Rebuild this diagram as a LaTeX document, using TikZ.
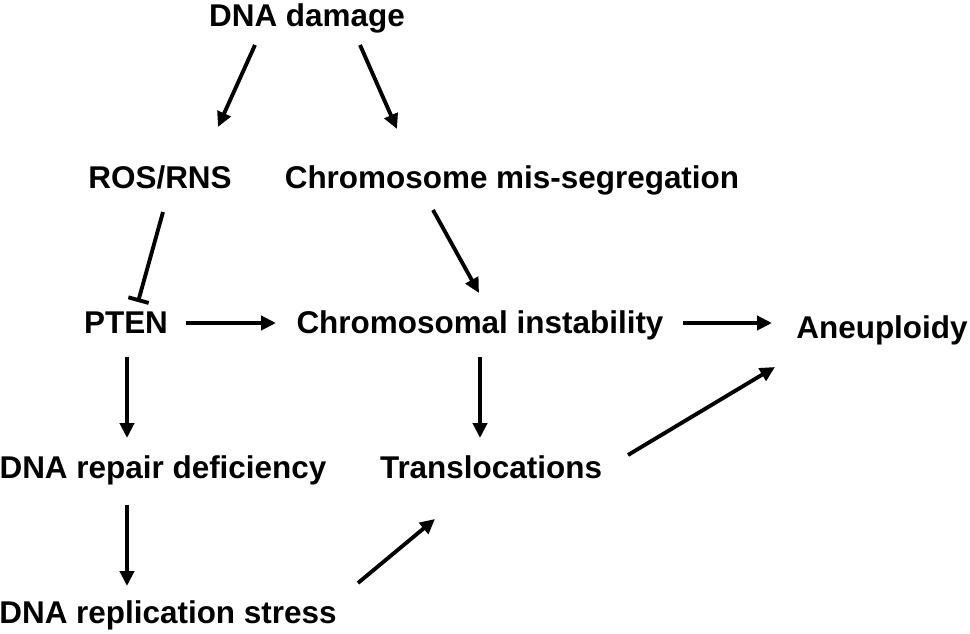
\documentclass[tikz,border=0pt]{standalone}
\usepackage{fontspec}
\setmainfont{Liberation Sans}
\usetikzlibrary{arrows.meta}

\begin{document}
\begin{tikzpicture}[x=0.02cm, y=-0.02cm, >={Triangle[length=8.5pt, width=8pt]}, line width=2.2pt,
    term/.style={anchor=base, inner sep=0pt, font=\fontsize{17.9}{20}\selectfont\bfseries}]
    \useasboundingbox (0,0) rectangle (970,634);

    % Nodes
    \node [term] (dna)    at (307,27)  {DNA damage};
    \node [term] (ros)    at (160,189) {ROS/RNS};
    \node [term] (mis)    at (512,189) {Chromosome mis-segregation};
    \node [term] (pten)   at (126,334) {PTEN};
    \node [term] (cin)    at (480,334) {Chromosomal instability};
    \node [term] (aneu)   at (882,339) {Aneuploidy};
    \node [term] (repair) at (163,479) {DNA repair deficiency};
    \node [term] (trans)  at (491,479) {Translocations};
    \node [term] (stress) at (168,623) {DNA replication stress};

    % Arrow ends
    \coordinate (dna-l)    at (255,45);   \coordinate (ros-t)    at (218,127);
    \coordinate (dna-r)    at (360,45);   \coordinate (mis-t)    at (397,129);
    \coordinate (ros-b)    at (163,212);  \coordinate (pten-t)   at (138,302);
    \coordinate (pten-r)   at (186,323);  \coordinate (cin-l)    at (276,323);
    \coordinate (mis-b)    at (433,210);  \coordinate (cin-t)    at (479,293);
    \coordinate (cin-r)    at (683,323);  \coordinate (aneu-l)   at (772,323);
    \coordinate (pten-b)   at (127,357);  \coordinate (repair-t) at (127,438);
    \coordinate (cin-b)    at (480,357);  \coordinate (trans-t)  at (480,438);
    \coordinate (repair-b) at (127,505);  \coordinate (stress-t) at (127,586);
    \coordinate (stress-r) at (358,583);  \coordinate (trans-b)  at (435,519);
    \coordinate (trans-r)  at (628,455);  \coordinate (aneu-b)   at (775,367);

    % Paths
    \draw [->]     (dna-l)    -- (ros-t);
    \draw [->]     (dna-r)    -- (mis-t);
    \draw [-{Bar[width=12pt]}] (ros-b) -- (pten-t);
    \draw [->]     (pten-r)   -- (cin-l);
    \draw [->]     (mis-b)    -- (cin-t);
    \draw [->]     (cin-r)    -- (aneu-l);
    \draw [->]     (pten-b)   -- (repair-t);
    \draw [->]     (cin-b)    -- (trans-t);
    \draw [->]     (repair-b) -- (stress-t);
    \draw [->]     (stress-r) -- (trans-b);
    \draw [->]     (trans-r)  -- (aneu-b);
\end{tikzpicture}
\end{document}
